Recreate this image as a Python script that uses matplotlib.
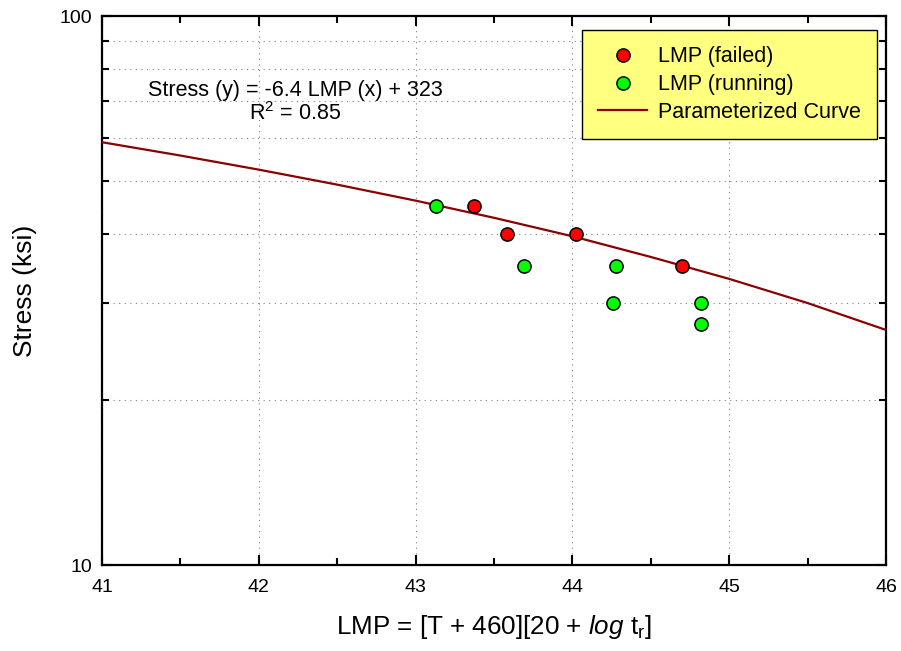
import matplotlib.pyplot as plt
import numpy as np
from matplotlib.ticker import LogLocator, NullFormatter, FixedLocator, FixedFormatter, MultipleLocator

plt.rcParams['font.family'] = ['Liberation Sans', 'DejaVu Sans']
plt.rcParams['mathtext.fontset'] = 'custom'
plt.rcParams['mathtext.rm'] = 'Liberation Sans'
plt.rcParams['mathtext.it'] = 'Liberation Sans:italic'
plt.rcParams['xtick.labelsize'] = 14
plt.rcParams['ytick.labelsize'] = 14

# data
failed_lmp = [43.37, 43.58, 44.02, 44.70]
failed_stress = [45, 40, 40, 35]
running_lmp = [43.13, 43.69, 44.28, 44.26, 44.82, 44.82]
running_stress = [45, 35, 35, 30, 30, 27.5]
curve_lmp = [41, 41.5, 42, 42.5, 43, 43.5, 44, 44.5, 45, 45.5, 46]
curve_stress = [58.9, 55.7, 52.5, 49.3, 46.1, 42.9, 39.7, 36.4, 33.2, 30.0, 26.8]

fig = plt.figure(figsize=(9.01, 6.51), dpi=100)
ax = fig.add_axes([0.1132, 0.1321, 0.8702, 0.8433])

ax.plot(curve_lmp, curve_stress, color='#8b0000', lw=1.6, label='Parameterized Curve', zorder=3)
ax.plot(failed_lmp, failed_stress, 'o', color='#ff0000', mec='black', mew=1.1, ms=9.5,
        label='LMP (failed)', zorder=4)
ax.plot(running_lmp, running_stress, 'o', color='#00ff00', mec='black', mew=1.1, ms=9.5,
        label='LMP (running)', zorder=4)

ax.set_yscale('log')
ax.set_xlim(41, 46)
ax.set_ylim(10, 100)
ax.xaxis.set_major_locator(MultipleLocator(1))
ax.xaxis.set_minor_locator(MultipleLocator(0.5))
ax.yaxis.set_major_locator(FixedLocator([10, 100]))
ax.yaxis.set_major_formatter(FixedFormatter(['10', '100']))
ax.yaxis.set_minor_locator(LogLocator(base=10, subs=np.arange(2, 10)))
ax.yaxis.set_minor_formatter(NullFormatter())

ax.tick_params(which='both', direction='in', top=True, right=True, width=1.5)
ax.tick_params(which='major', length=7)
ax.tick_params(which='minor', length=5)
ax.tick_params(axis='x', which='major', pad=10)
ax.tick_params(axis='y', which='major', pad=7)
for s in ax.spines.values():
    s.set_linewidth(1.6)

ax.grid(True, which='major', axis='x', ls=(0, (1, 4)), color='gray', lw=0.8)
ax.grid(True, which='minor', axis='y', ls=(0, (1, 4)), color='gray', lw=0.8)

ax.set_xlabel(r'LMP = [T + 460][20 + $\it{log}$ t$_\mathrm{r}$]', fontsize=18.7, labelpad=12)
ax.set_ylabel('Stress (ksi)', fontsize=19, labelpad=16)

ax.text(0.2468, 0.855, 'Stress (y) = -6.4 LMP (x) + 323', transform=ax.transAxes,
        fontsize=15.5, ha='center', va='baseline')
ax.text(0.2468, 0.8106, r'R$^2$ = 0.85', transform=ax.transAxes,
        fontsize=15.5, ha='center', va='baseline')

handles, labels = ax.get_legend_handles_labels()
order = [1, 2, 0]
leg = ax.legend([handles[i] for i in order], [labels[i] for i in order],
                loc='upper right', bbox_to_anchor=(0.9885, 0.9745), borderaxespad=0,
                fontsize=15.5, facecolor='#ffff80', edgecolor='black', framealpha=1,
                fancybox=False, handlelength=2.27, handletextpad=0.5, borderpad=0.75,
                labelspacing=0.32)
leg.get_frame().set_linewidth(1.0)

fig.savefig('out.png', dpi=100)
